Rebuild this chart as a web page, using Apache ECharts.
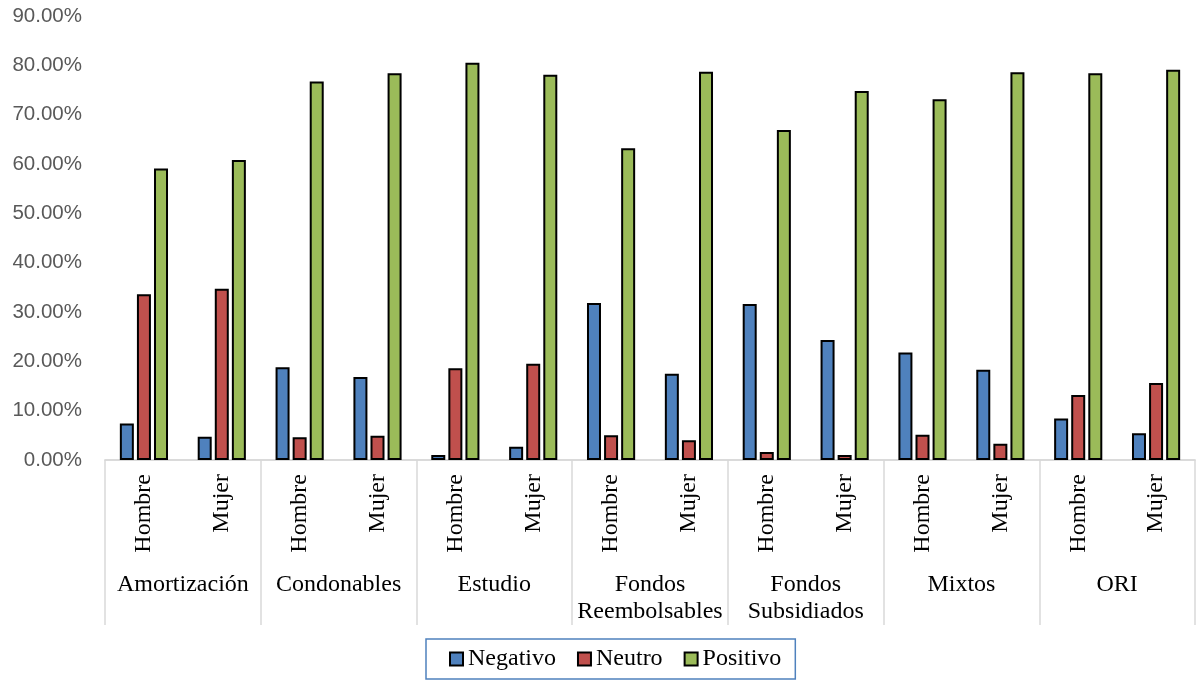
<!DOCTYPE html>
<html>
<head>
<meta charset="utf-8">
<script src="https://cdn.jsdelivr.net/npm/echarts@6/dist/echarts.min.js"></script>
<style>
html,body{margin:0;padding:0;background:#fff;}
#main{width:1196px;height:682px;}
</style>
</head>
<body>
<div id="main"></div>
<script>
const groups = ['Amortización','Condonables','Estudio','Fondos\nReembolsables','Fondos\nSubsidiados','Mixtos','ORI'];
const subCats = ['Hombre','Mujer','Hombre','Mujer','Hombre','Mujer','Hombre','Mujer','Hombre','Mujer','Hombre','Mujer','Hombre','Mujer'];
const seriesNames = ['Negativo','Neutro','Positivo'];
const negativo = [7.4, 4.7, 18.8, 16.8, 1.0, 2.7, 31.8, 17.5, 31.6, 24.3, 21.8, 18.3, 8.4, 5.4];
const neutro   = [33.6, 34.7, 4.6, 4.9, 18.6, 19.5, 5.0, 4.0, 1.6, 1.0, 5.1, 3.3, 13.2, 15.6];
const positivo = [59.1, 60.8, 76.7, 78.4, 80.5, 78.1, 63.2, 78.7, 66.9, 74.8, 73.1, 78.6, 78.4, 79.1];
const yTicks = {min: 0, max: 90, interval: 10};

const colors = ['#4f81bd','#c0504d','#9bbb59'];
const serif = 'Liberation Serif';

const chart = echarts.init(document.getElementById('main'));
const dataSets = [negativo, neutro, positivo];
chart.setOption({
  animation: false,
  grid: {left: 105, right: 1, top: 16, bottom: 222, containLabel: false},
  legend: {
    data: seriesNames,
    left: 426,
    top: 639,
    padding: [8, 14, 8, 23],
    borderColor: '#4f81bd',
    borderWidth: 1.5,
    itemWidth: 13,
    itemHeight: 13,
    itemGap: 21,
    icon: 'rect',
    textStyle: {fontFamily: serif, fontSize: 24, color: '#000', lineHeight: 24}
  },
  xAxis: [
    {
      type: 'category',
      data: subCats,
      position: 'bottom',
      axisLine: {show: true, lineStyle: {color: '#d9d9d9', width: 1.5}},
      axisTick: {show: false},
      axisLabel: {rotate: 90, margin: 14, fontFamily: serif, fontSize: 24, color: '#000', interval: 0}
    },
    {
      type: 'category',
      data: groups,
      position: 'bottom',
      axisLine: {show: true, lineStyle: {color: '#d9d9d9', width: 1.5}},
      axisTick: {show: true, length: 165, lineStyle: {color: '#d9d9d9', width: 1.5}},
      axisLabel: {margin: 111, fontFamily: serif, fontSize: 24, lineHeight: 27, color: '#000', interval: 0}
    }
  ],
  yAxis: {
    type: 'value',
    min: yTicks.min, max: yTicks.max, interval: yTicks.interval,
    axisLine: {show: false},
    axisTick: {show: false},
    splitLine: {show: false},
    axisLabel: {
      margin: 23,
      fontFamily: 'Liberation Sans', fontSize: 20.5, color: '#595959',
      formatter: v => v.toFixed(2) + '%'
    }
  },
  series: seriesNames.map((name, i) => ({
    name: name,
    type: 'bar',
    xAxisIndex: 0,
    data: dataSets[i],
    barWidth: 14,
    barGap: '22%',
    itemStyle: {color: colors[i], borderColor: '#000', borderWidth: 2}
  }))
});
</script>
</body>
</html>
